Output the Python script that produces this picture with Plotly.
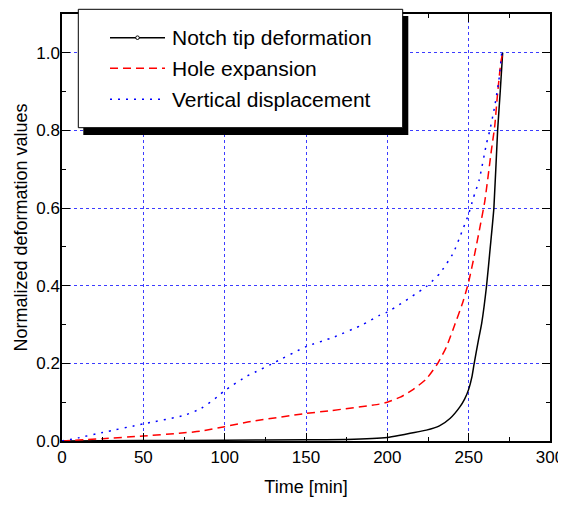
import plotly.graph_objects as go

# ---------------- data ----------------
notch_t = [0, 50, 100, 150, 175, 200, 207, 214, 224, 232, 238.5, 244.6, 247.5, 250, 252,
           253.4, 256, 258, 261, 263.3, 265.5, 267.8, 269.4, 270.9]
notch_v = [0, 0.001, 0.002, 0.003, 0.004, 0.009, 0.014, 0.02, 0.028, 0.039, 0.058, 0.088,
           0.108, 0.133, 0.165, 0.2, 0.26, 0.303, 0.4, 0.5, 0.6, 0.8, 0.9, 1.0]

hole_t = [0, 25, 50, 72, 85, 100, 116, 150, 165, 195, 200, 208, 216, 224, 231, 236.4,
          241.5, 246.6, 250, 253.8, 257, 260, 264, 266, 267.6, 269.7, 270.9]
hole_v = [0, 0.006, 0.013, 0.02, 0.025, 0.037, 0.05, 0.071, 0.078, 0.095, 0.10, 0.113,
          0.133, 0.16, 0.20, 0.243, 0.30, 0.36, 0.41, 0.484, 0.552, 0.62, 0.75, 0.81,
          0.887, 0.973, 1.0]

vert_t = [0, 10, 25, 50, 75, 85.6, 95.5, 100, 114, 119.5, 128.7, 150, 166.7, 185, 194.8,
          200, 224, 232.3, 240.5, 245, 250, 252.8, 256.5, 261, 263, 266, 268.6, 270.3]
vert_v = [0, 0.008, 0.022, 0.044, 0.066, 0.084, 0.114, 0.13, 0.168, 0.179, 0.198, 0.243,
          0.267, 0.30, 0.323, 0.332, 0.398, 0.432, 0.484, 0.53, 0.585, 0.625, 0.673,
          0.767, 0.80, 0.862, 0.93, 1.0]

series_names = ["Notch tip deformation", "Hole expansion", "Vertical displacement"]
series_colors = ["#000000", "#ff0000", "#0000ff"]
series_dash = ["solid", "8px,5px", "2px,6px"]

x_ticks = [0, 50, 100, 150, 200, 250, 300]
y_ticks = [0.0, 0.2, 0.4, 0.6, 0.8, 1.0]
y_tick_labels = ["0.0", "0.2", "0.4", "0.6", "0.8", "1.0"]

FONT = "Liberation Sans, Arial, sans-serif"

# the page body has an 8px margin: the figure is drawn 8px right / down
OFF = 8
W, H = 566 - OFF, 508 - OFF
# desired plot area in window pixels
SX0, SX1, SY0, SY1 = 62, 550, 14, 441
ML, MR, MT, MB = SX0 - OFF, W - (SX1 - OFF), SY0 - OFF, H - (SY1 - OFF)
PW, PH = SX1 - SX0, SY1 - SY0


def px(x):
    return (x - SX0) / PW


def py(y):
    return (SY1 - y) / PH


fig = go.Figure()
for t, v, name, col, dash in zip([notch_t, hole_t, vert_t], [notch_v, hole_v, vert_v],
                                 series_names, series_colors, series_dash):
    fig.add_trace(go.Scatter(x=t, y=v, mode="lines", name=name,
                             line=dict(color=col, width=1.5, dash=dash,
                                       shape="spline", smoothing=0.5),
                             showlegend=False))

axis_common = dict(
    showline=True, linecolor="black", linewidth=1.5, mirror="allticks",
    ticks="inside", ticklen=8, tickwidth=1.2, tickcolor="black",
    showgrid=True, gridcolor="rgb(60,60,255)", gridwidth=1, griddash="dot",
    zeroline=False, automargin=False,
    tickfont=dict(family=FONT, size=17, color="black"),
)

fig.update_xaxes(range=[0, 300], tickvals=x_ticks,
                 minor=dict(ticks="inside", ticklen=4, dtick=25, tick0=0,
                            tickcolor="black", showgrid=False),
                 title=dict(text="Time [min]", font=dict(family=FONT, size=18, color="black"),
                            standoff=14),
                 ticklabelstandoff=0,
                 **axis_common)
fig.update_yaxes(range=[0, 1.1], tickvals=y_ticks, ticktext=y_tick_labels,
                 minor=dict(ticks="inside", ticklen=4, dtick=0.1, tick0=0,
                            tickcolor="black", showgrid=False),
                 title=dict(text="Normalized deformation values",
                            font=dict(family=FONT, size=18, color="black"), standoff=4),
                 ticklabelstandoff=-3,
                 **axis_common)

# ---------------- custom legend (box with shadow) ----------------
shapes = [
    dict(type="rect", xref="paper", yref="paper", layer="above",
         x0=px(83.3), x1=px(408.3), y0=py(135), y1=py(16),
         fillcolor="black", line=dict(width=0)),
    dict(type="rect", xref="paper", yref="paper", layer="above",
         x0=px(78.3), x1=px(402.7), y0=py(127.7), y1=py(9.3),
         fillcolor="white", line=dict(color="black", width=1)),
]
annotations = []
row_y = [37.7, 68.3, 99.3]
for name, col, dash, ry in zip(series_names, series_colors, series_dash, row_y):
    shapes.append(dict(type="line", xref="paper", yref="paper", layer="above",
                       x0=px(110), x1=px(165), y0=py(ry), y1=py(ry),
                       line=dict(color=col, width=1.5, dash=dash)))
    annotations.append(dict(xref="paper", yref="paper", x=px(170), y=py(ry),
                            xanchor="left", yanchor="middle", showarrow=False,
                            text=name, font=dict(family=FONT, size=21, color="black")))
shapes.append(dict(type="circle", xref="paper", yref="paper", layer="above",
                   x0=px(135.7), x1=px(139.3), y0=py(row_y[0] + 1.8), y1=py(row_y[0] - 1.8),
                   fillcolor="white", line=dict(color="black", width=1)))

fig.update_layout(
    width=W, height=H,
    margin=dict(l=ML, r=MR, t=MT, b=MB),
    paper_bgcolor="white", plot_bgcolor="white",
    shapes=shapes, annotations=annotations,
    showlegend=False,
)

fig.write_html("out.html")
